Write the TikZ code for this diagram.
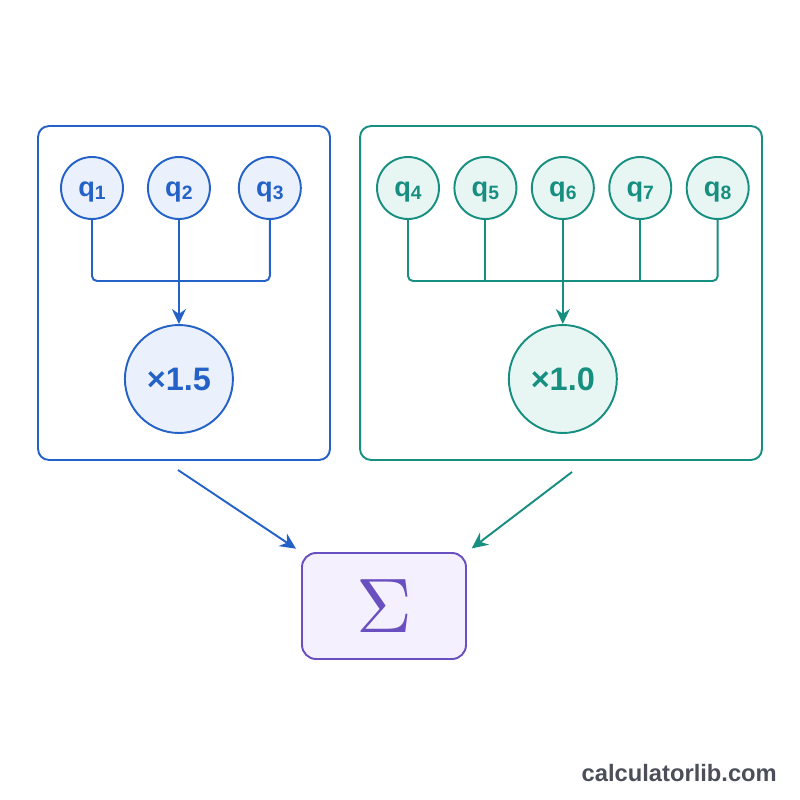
\documentclass[tikz,border=0pt]{standalone}
\usepackage{fontspec}
\usepackage{graphicx}
\setmainfont{Liberation Sans}
\usetikzlibrary{arrows.meta,positioning,calc}
\definecolor{grpblue}{HTML}{2462C8}
\definecolor{grpbluebg}{HTML}{EAF1FC}
\definecolor{grpteal}{HTML}{178F80}
\definecolor{grptealbg}{HTML}{E8F6F3}
\definecolor{sumpurple}{HTML}{6A4FC0}
\definecolor{sumpurplebg}{HTML}{F4F0FD}
\definecolor{markgray}{HTML}{4A4F5A}
\newcommand{\qlab}[1]{\raisebox{-0.5pt}[\height][0pt]{{\fontsize{15.5}{18}\selectfont\bfseries q}\raisebox{-1.6pt}{\fontsize{11}{12}\selectfont\bfseries #1}}}
\tikzset{
  groupbox/.style={draw, line width=1.1pt, rounded corners=0.22cm, fill=white,
    minimum width=5.84cm, minimum height=6.68cm},
  qnode/.style={circle, draw, line width=1.1pt, minimum size=1.24cm, inner sep=0pt},
  weightnode/.style={circle, draw, line width=1.1pt, minimum size=2.16cm, inner sep=0pt,
    font=\fontsize{18.5}{21}\selectfont\bfseries},
  busline/.style={line width=1.1pt, rounded corners=0.1cm},
  busarrow/.style={line width=1.1pt, -{Stealth[length=0.3cm, width=0.28cm]}},
  feedarrow/.style={line width=1.1pt, -{Stealth[length=0.32cm, width=0.3cm]}, shorten >=0.12cm}
}

\begin{document}
\begin{tikzpicture}[x=0.02cm, y=-0.02cm]
  \useasboundingbox[fill=white] (0,0) rectangle (800,800);
  % group boxes
  \node[groupbox, draw=grpblue] (lbox) at (184,293) {};
  \node[groupbox, draw=grpteal, minimum width=8.04cm] (rbox) at (561,293) {};
  % left group
  \node[qnode, draw=grpblue, fill=grpbluebg, text=grpblue] (q1) at (92,188) {\qlab{1}};
  \node[qnode, draw=grpblue, fill=grpbluebg, text=grpblue, right=0.46cm of q1] (q2) {\qlab{2}};
  \node[qnode, draw=grpblue, fill=grpbluebg, text=grpblue, right=0.54cm of q2] (q3) {\qlab{3}};
  \node[weightnode, draw=grpblue, fill=grpbluebg, text=grpblue] (w1) at (q2 |- 0,379) {×1.5};
  \coordinate (lbus) at (q2 |- 0,281);
  \draw[busline, grpblue] (q1.south) |- (lbus) -| (q3.south);
  \draw[busline, grpblue] (q2.south) -- (lbus);
  \draw[busarrow, grpblue] (lbus) -- (w1.north);
  % right group
  \node[qnode, draw=grpteal, fill=grptealbg, text=grpteal] (q4) at (408,188) {\qlab{4}};
  \node[qnode, draw=grpteal, fill=grptealbg, text=grpteal, right=0.27cm of q4] (q5) {\qlab{5}};
  \node[qnode, draw=grpteal, fill=grptealbg, text=grpteal, right=0.27cm of q5] (q6) {\qlab{6}};
  \node[qnode, draw=grpteal, fill=grptealbg, text=grpteal, right=0.27cm of q6] (q7) {\qlab{7}};
  \node[qnode, draw=grpteal, fill=grptealbg, text=grpteal, right=0.27cm of q7] (q8) {\qlab{8}};
  \node[weightnode, draw=grpteal, fill=grptealbg, text=grpteal] (w2) at (q6 |- w1) {×1.0};
  \coordinate (rbus) at (q6 |- lbus);
  \draw[busline, grpteal] (q4.south) |- (rbus) -| (q8.south);
  \foreach \q in {q5,q6,q7}
    \draw[busline, grpteal] (\q.south) -- (\q.south |- rbus);
  \draw[busarrow, grpteal] (rbus) -- (w2.north);
  % sum
  \node[draw=sumpurple, fill=sumpurplebg, line width=1.1pt, rounded corners=0.28cm,
    minimum width=3.28cm, minimum height=2.12cm, text=sumpurple] (sum) at (384,606)
    {\scalebox{4.4}{$\Sigma$}};
  \coordinate (lfrom) at (178,470);
  \coordinate (rfrom) at (572,472);
  \draw[feedarrow, grpblue] (lfrom) -- (sum.north west);
  \draw[feedarrow, grpteal] (rfrom) -- (sum.north east);
  % watermark
  \node[text=markgray, font=\fontsize{13.5}{16}\selectfont\bfseries, anchor=east] (mark) at (783,773) {calculatorlib.com};
\end{tikzpicture}
\end{document}
